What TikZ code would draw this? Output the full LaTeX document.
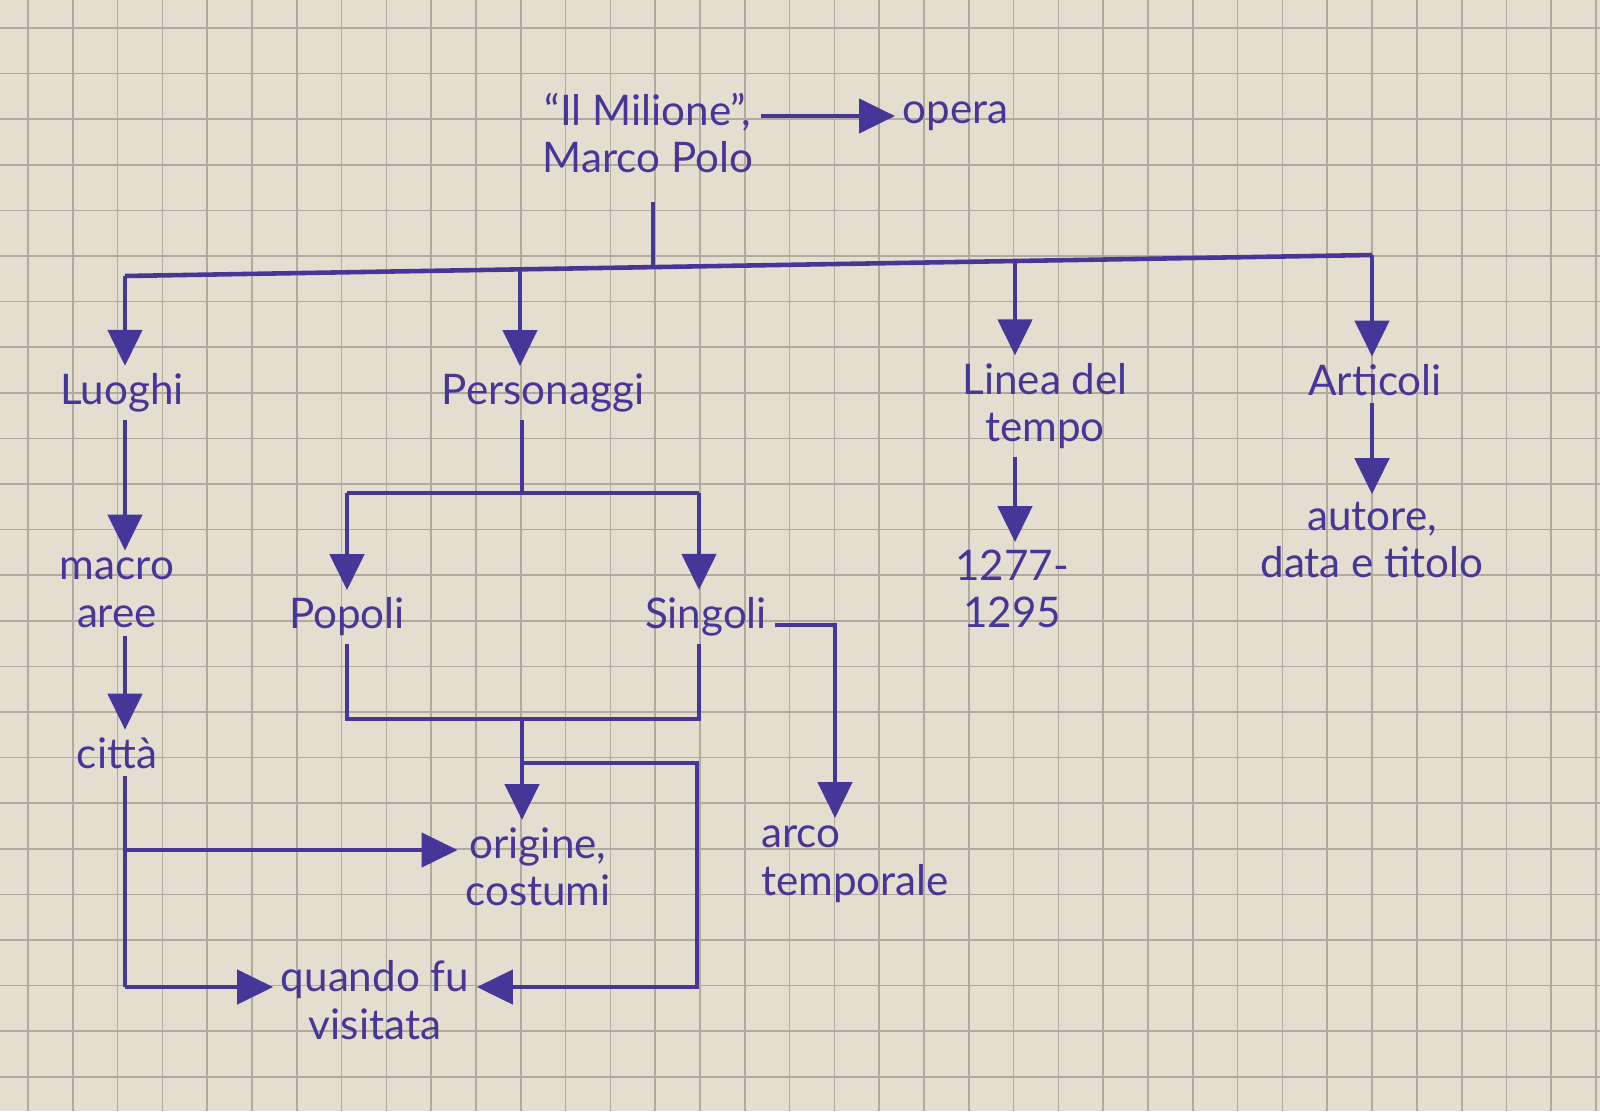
\documentclass[tikz,border=0pt]{standalone}
\usepackage{fontspec}
\setmainfont{Lato}
\usepackage{xcolor}
\usepackage{tikz}
\usetikzlibrary{arrows.meta,positioning,calc}
\definecolor{ink}{RGB}{70,54,152}
\definecolor{paper}{RGB}{229,221,207}
\definecolor{gridline}{RGB}{178,169,159}

\begin{document}
\begin{tikzpicture}[
  word/.style={text=ink, align=center, font=\fontsize{12}{13.5}\selectfont, inner sep=2pt},
  arrow/.style={draw=ink, line width=1.3pt, -{Triangle[length=3.6mm, width=3.4mm]}},
  link/.style={draw=ink, line width=1.3pt}
]

% Paper
\fill[paper] (0,0) rectangle (16,-11.11);
\useasboundingbox (0,0) rectangle (16,-11.11);
\foreach \x in {0,...,35} \draw[gridline, line width=0.5pt] (0.28+0.448*\x,0) -- ++(0,-11.11);
\foreach \y in {0,...,23} \draw[gridline, line width=0.5pt] (0,-0.28-0.456*\y) -- ++(16,0);

% Title
\node[word] (milione) at (6.48,-1.33) {``Il Milione'',\\Marco Polo};
\node[word, anchor=west] (opera) at (8.95,-1.16) {opera};
\draw[arrow] (opera.west -| milione.east) -- (opera.west);

% Main bar
\coordinate (hub) at (6.53,-2.67);
\coordinate (b1) at (1.25,-2.76);
\coordinate (b2) at (5.20,-2.69);
\coordinate (b3) at (10.15,-2.61);
\coordinate (b4) at (13.72,-2.55);
\draw[link, shorten <=6pt] (milione.south -| hub) -- (hub);
\draw[link] (b1) -- (b4);

% Level 1
\node[word] (luoghi) at (1.22,-3.93) {Luoghi};
\node[word] (pers) at (5.43,-3.93) {Personaggi};
\node[word] (linea) at (10.45,-4.06) {Linea del\\tempo};
\node[word] (articoli) at (13.75,-3.80) {Articoli};
\draw[arrow] (b1) -- (b1 |- luoghi.north);
\draw[arrow] (b2) -- (b2 |- pers.north);
\draw[arrow] (b3) -- (b3 |- linea.north);
\draw[arrow] (b4) -- (b4 |- articoli.north);

% Luoghi
\node[word] (macro) at (1.17,-5.93) {macro\\aree};
\node[word] (citta) at (1.17,-7.53) {città};
\draw[arrow] (b1 |- luoghi.south) -- (b1 |- macro.north);
\draw[arrow] (b1 |- macro.south) -- (b1 |- citta.north);

% Linea del tempo, Articoli
\node[word] (anni) at (10.12,-5.89) {1277-\\1295};
\node[word] (autore) at (13.72,-5.40) {autore,\\data e titolo};
\draw[arrow] (b3 |- linea.south) -- (b3 |- anni.north);
\draw[arrow] (b4 |- articoli.south) -- (b4 |- autore.north);

% Personaggi
\node[word] (popoli) at (3.47,-6.17) {Popoli};
\node[word] (singoli) at (7.06,-6.17) {Singoli};
\coordinate (p1) at (5.22,-4.93);
\coordinate (pl) at (3.47,-4.93);
\coordinate (pr) at (6.99,-4.93);
\draw[link] (pers.south -| p1) -- (p1);
\draw[link] (pl) -- (pr);
\draw[arrow] (pl) -- (popoli.north);
\draw[arrow] (pr) -- (pr |- singoli.north);

% Popoli + Singoli
\node[word] (origine) at (5.38,-8.67) {origine,\\costumi};
\node[word] (quando) at (3.75,-10.0) {quando fu\\visitata};
\node[word, align=left] (arco) at (8.55,-8.64) {arco\\temporale};
\coordinate (jl) at (3.47,-7.19);
\coordinate (jm) at (5.22,-7.19);
\coordinate (jr) at (6.99,-7.19);
\draw[link] (popoli.south) -- (jl) -- (jr) -- (jr |- singoli.south);
\draw[arrow] (jm) -- (jm |- origine.north);
\coordinate (k1) at (5.22,-7.63);
\coordinate (k2) at (6.97,-7.63);
\coordinate (k3) at (6.97,-9.87);
\draw[arrow] (k1) -- (k2) -- (k3) -- (k3 -| quando.east);
\coordinate (s1) at (8.35,-6.25);
\draw[arrow] (singoli.east |- s1) -- (s1) -- (s1 |- arco.north);

% citta
\coordinate (c1) at (1.25,-8.50);
\coordinate (c2) at (1.25,-9.87);
\draw[link] (b1 |- citta.south) -- (c2);
\draw[arrow] (c1) -- (c1 -| origine.west);
\draw[arrow] (c2) -- (c2 -| quando.west);

\end{tikzpicture}
\end{document}
